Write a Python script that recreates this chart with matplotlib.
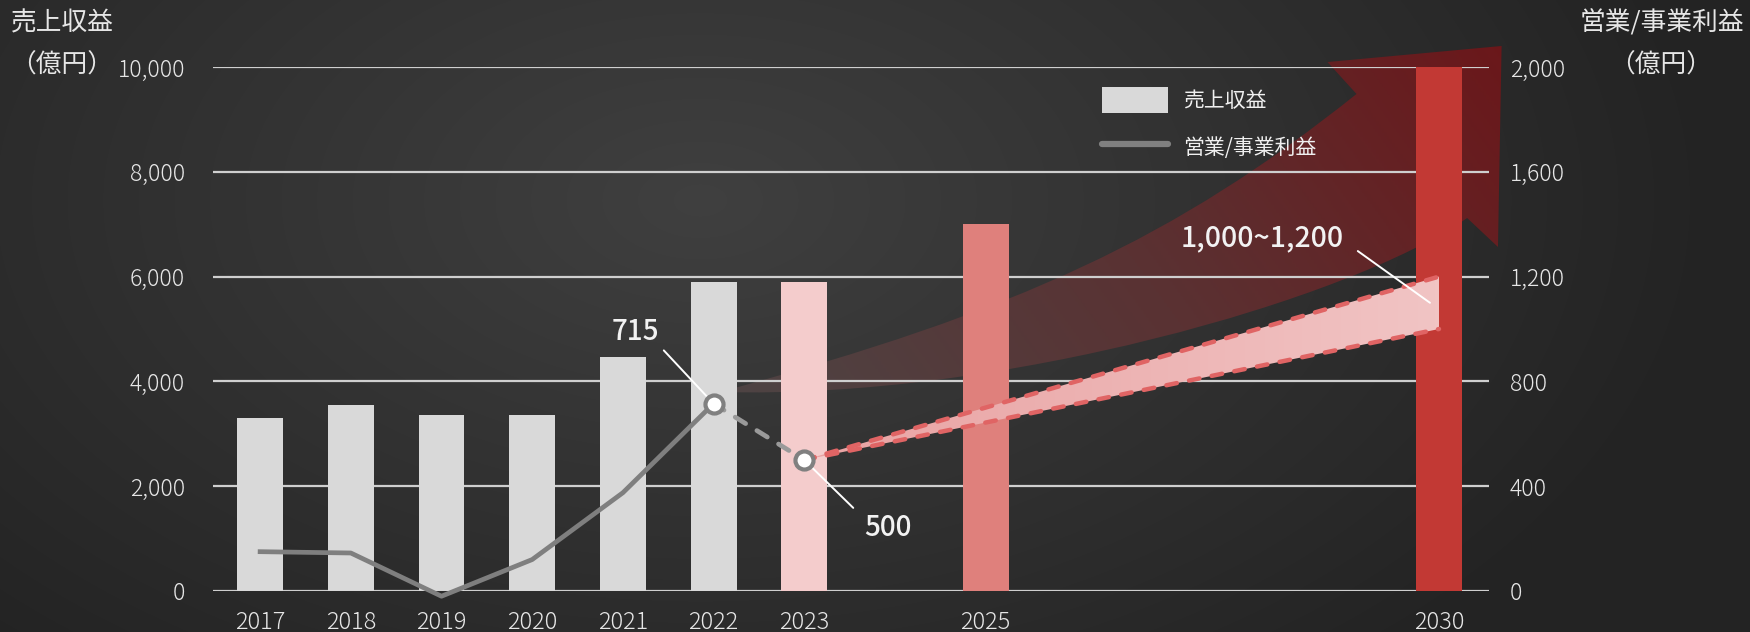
import numpy as np
import matplotlib
matplotlib.use("Agg")
import matplotlib.pyplot as plt
from matplotlib.path import Path
from matplotlib.patches import PathPatch, Patch, Polygon
from matplotlib.lines import Line2D
from matplotlib.colors import LinearSegmentedColormap

plt.rcParams['font.family'] = ['Noto Sans CJK JP', 'DejaVu Sans']

# 売上収益 (億円)
years = [2017, 2018, 2019, 2020, 2021, 2022, 2023, 2025, 2030]
revenue = [3300, 3550, 3350, 3350, 4470, 5900, 5900, 7000, 10000]
bar_colors = ['#d9d9d9'] * 6 + ['#f4cccc', '#df807c', '#c23934']

# 営業/事業利益 (億円) - actual and 2023 forecast
profit_years = [2017, 2018, 2019, 2020, 2021, 2022]
profit = [150, 145, -20, 120, 375, 715]
forecast_years = [2022, 2023]
forecast_profit = [715, 500]

# 2030 target range
target_years = [2023, 2030]
target_low = [500, 1000]
target_high = [500, 1200]

left_ticks = [0, 2000, 4000, 6000, 8000, 10000]
right_ticks = [0, 400, 800, 1200, 1600, 2000]

text_color = '#e6e6e6'

fig = plt.figure(figsize=(17.5, 6.32), dpi=100)
fig.patch.set_facecolor('#2a2a2a')

# dark background with a soft light spot
bg = fig.add_axes([0, 0, 1, 1])
bg.axis('off')
yy, xx = np.mgrid[0:632, 0:1750]
d = np.sqrt(((xx - 700) / 1000.0) ** 2 + ((yy - 200) / 600.0) ** 2)
d = np.clip(d, 0, 1)
shade = 0.25 - 0.11 * d
bg.imshow(np.dstack([shade, shade, shade]), extent=[0, 1, 0, 1], aspect='auto')
bg.set_xlim(0, 1)
bg.set_ylim(0, 1)

ax = fig.add_axes([0.1217, 0.0649, 0.7291, 0.8291])
ax.patch.set_alpha(0)

# big growth arrow (year, revenue units)
verts = [
    (2022.07, 3798),
    (2025.37, 5344), (2027.10, 6737), (2029.09, 9485),
    (2028.77, 10095),
    (2030.69, 10401),
    (2030.65, 6565),
    (2030.31, 7118),
    (2029.01, 5553), (2025.15, 3645), (2022.07, 3798),
    (2022.07, 3798),
]
codes = [Path.MOVETO,
         Path.CURVE4, Path.CURVE4, Path.CURVE4,
         Path.LINETO, Path.LINETO, Path.LINETO, Path.LINETO,
         Path.CURVE4, Path.CURVE4, Path.CURVE4,
         Path.CLOSEPOLY]
arrow = PathPatch(Path(verts, codes), facecolor='none', edgecolor='none',
                  clip_on=False, zorder=0.2)
ax.add_patch(arrow)
gx, gy = np.meshgrid(np.linspace(0, 1, 300), np.linspace(0, 1, 200))
t = np.clip(0.75 * gx + 0.25 * gy, 0, 1)
arrow_cmap = LinearSegmentedColormap.from_list('arrow', ['#4d4545', '#5a3233', '#6b171a'])
im = ax.imshow(t, cmap=arrow_cmap, extent=[2021.9, 2030.8, 3500, 10500],
               origin='lower', aspect='auto', zorder=0.2, interpolation='bilinear')
im.set_clip_path(arrow)
im.set_clip_box(fig.bbox)

# revenue bars
ax.bar(years, revenue, width=0.507, color=bar_colors, zorder=2)

ax.set_xlim(2016.48, 2030.55)
ax.set_ylim(0, 10000)
ax.set_axisbelow(True)
ax.yaxis.grid(True, color='#cfcfcf', lw=1.6)
ax.set_yticks(left_ticks)
ax.set_yticklabels([f'{v:,}' for v in left_ticks])
ax.set_xticks(years)
ax.set_xticklabels([str(y) for y in years])
ax.tick_params(axis='y', length=0, pad=20, labelsize=16.5, labelcolor=text_color)
ax.tick_params(axis='x', length=0, pad=14, labelsize=17, labelcolor=text_color)
for s in ax.spines.values():
    s.set_visible(False)

ax2 = ax.twinx()
ax2.set_ylim(0, 2000)
ax2.set_yticks(right_ticks)
ax2.set_yticklabels([f'{v:,}' for v in right_ticks])
ax2.tick_params(axis='y', length=0, pad=15, labelsize=16.5, labelcolor=text_color)
for s in ax2.spines.values():
    s.set_visible(False)

for lbl in ax.get_xticklabels() + ax.get_yticklabels() + ax2.get_yticklabels():
    lbl.set_fontweight('light')

# profit line
ax2.plot(profit_years, profit, color='#7f7f7f', lw=3.4, clip_on=False, zorder=3)
ax2.plot(forecast_years, forecast_profit, color='#9a9a9a', lw=3.4,
         ls=(0, (2.6, 2.8)), dash_capstyle='round', clip_on=False, zorder=3)

# target band up to 2030, light pink fading lighter to the right
band_pts = list(zip(target_years, target_low)) + list(zip(target_years[::-1], target_high[::-1]))
band = Polygon(band_pts, closed=True, facecolor='none', edgecolor='none', zorder=4)
ax2.add_patch(band)
band_cmap = LinearSegmentedColormap.from_list('band', ['#e9a3a3', '#f1c4c4'])
bim = ax2.imshow(np.linspace(0, 1, 200).reshape(1, -1), cmap=band_cmap,
                 extent=[target_years[0], target_years[1], min(target_low), max(target_high)],
                 aspect='auto', zorder=4, interpolation='bilinear')
bim.set_clip_path(band)
ax2.plot(target_years, target_high, color='#e06464', lw=3.2, ls=(0, (2.4, 2.8)),
         dash_capstyle='round', zorder=5)
ax2.plot(target_years, target_low, color='#e06464', lw=3.2, ls=(0, (2.4, 2.8)),
         dash_capstyle='round', zorder=5)

ax2.plot(forecast_years, forecast_profit, 'o', ms=13, mfc='white', mec='#808080',
         mew=3, zorder=6, clip_on=False)

# value labels
ax2.annotate(f'{forecast_profit[0]:,}', xy=(forecast_years[0], forecast_profit[0]),
             xytext=(2021.14, 992), ha='center', va='center', fontsize=20,
             color='#f2f2f2', fontweight='medium', zorder=5.5,
             arrowprops=dict(arrowstyle='-', color='white', lw=1.4, relpos=(1, 0),
                             shrinkA=2, shrinkB=0))
ax2.annotate(f'{forecast_profit[1]:,}', xy=(forecast_years[1], forecast_profit[1]),
             xytext=(2023.92, 244), ha='center', va='center', fontsize=20,
             color='#f2f2f2', fontweight='medium', zorder=5.5,
             arrowprops=dict(arrowstyle='-', color='white', lw=1.4, relpos=(0, 0.8),
                             shrinkA=8, shrinkB=0))
ax2.annotate(f'{target_low[1]:,}~{target_high[1]:,}',
             xy=(2029.9, (target_low[1] + target_high[1]) / 2),
             xytext=(2028.05, 1347), ha='center', va='center', fontsize=20.5,
             color='#f2f2f2', fontweight='medium', zorder=5.5,
             arrowprops=dict(arrowstyle='-', color='white', lw=1.4, relpos=(1, 0.4),
                             shrinkA=10, shrinkB=0))

ax2.set_xlim(2016.48, 2030.55)
ax2.set_ylim(0, 2000)

# legend
handles = [Patch(facecolor='#d9d9d9', edgecolor='none'),
           Line2D([], [], color='#808080', lw=4.5, solid_capstyle='round')]
ax2.legend(handles, ['売上収益', '営業/事業利益'], loc='upper left',
           bbox_to_anchor=(0.697, 0.962), frameon=False, fontsize=15,
           handlelength=3.15, handleheight=1.55, handletextpad=0.75,
           labelspacing=1.0, borderpad=0, borderaxespad=0, labelcolor='#f0f0f0')

# axis titles
fig.text(0.0354, 0.9636, '売上収益', ha='center', va='center', fontsize=18.5, color=text_color)
fig.text(0.0354, 0.897, '（億円）', ha='center', va='center', fontsize=18.5, color=text_color)
fig.text(0.9497, 0.9636, '営業/事業利益', ha='center', va='center', fontsize=18.5, color=text_color)
fig.text(0.9491, 0.897, '（億円）', ha='center', va='center', fontsize=18.5, color=text_color)

fig.savefig('out.png', dpi=100, facecolor=fig.get_facecolor())
